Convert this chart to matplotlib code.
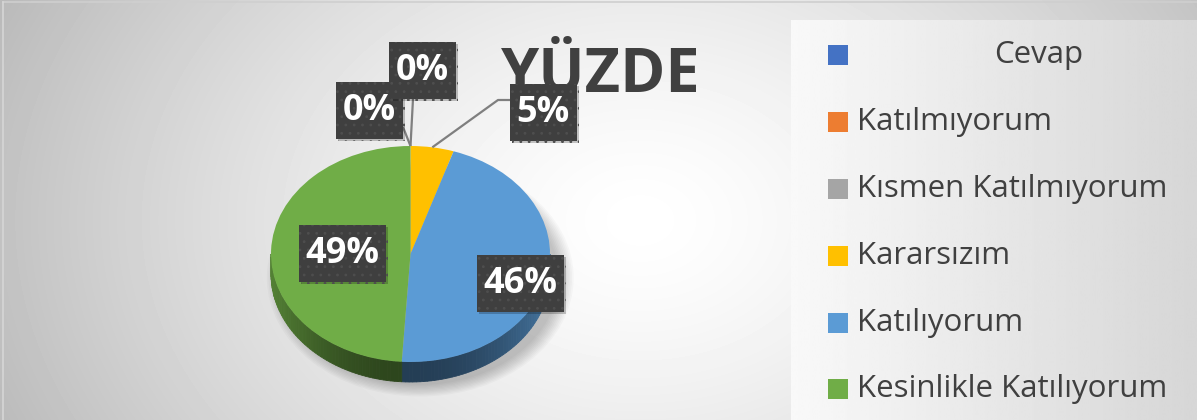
import numpy as np
import matplotlib.pyplot as plt
from matplotlib.patches import Rectangle, Polygon, Ellipse
import matplotlib.patheffects as pe

plt.rcParams['font.family'] = ['Open Sans', 'DejaVu Sans']
plt.rcParams['hatch.linewidth'] = 0.8

# data
categories = ['Cevap', 'Katılmıyorum', 'Kısmen Katılmıyorum', 'Kararsızım',
              'Katılıyorum', 'Kesinlikle Katılıyorum']
percents = [0, 0, 0, 5, 46, 49]
show_label = [False, True, True, True, True, True]
colors = ['#4472c4', '#ed7d31', '#a5a5a5', '#ffc000', '#5b9bd5', '#70ad47']

# label box centres (pixels from top-left) and leader start points
label_pos = [None, (369, 110), (422, 70), (543, 112), (520, 283), (342, 253)]
leader_pts = [None, [(403, 127)], [(413, 99)], [(510, 100), (498, 100)], None, None]

W, H = 1197, 420
CX, CY, RX, RY, DEPTH = 410.5, 254, 139.5, 108, 20

fig = plt.figure(figsize=(W / 100, H / 100), dpi=100)

# background: soft radial gradient
bg = fig.add_axes([0, 0, 1, 1], zorder=0)
bg.set_xlim(0, W)
bg.set_ylim(H, 0)
bg.axis('off')
yy, xx = np.mgrid[0:H, 0:W]
d = np.sqrt(((xx - 640) / 700) ** 2 + ((yy - 220) / 520) ** 2)
shade = np.clip(1 - 0.27 * d ** 1.4, 0, 1)
bg.imshow(shade, cmap='gray', vmin=0, vmax=1, extent=(0, W, H, 0),
          aspect='auto', interpolation='bilinear')
bg.plot([3, W], [2, 2], color='#cfcfcf', lw=1.2)
bg.plot([3, 3], [2, H], color='#d6d6d6', lw=1.2)

# pie (top face), squashed into an ellipse
ax = fig.add_axes([0, 0, 1, 1], zorder=1)
ax.patch.set_alpha(0)
wedges, _ = ax.pie(percents, colors=colors, startangle=90, counterclock=False,
                   radius=1, wedgeprops=dict(linewidth=0))
ax.set_aspect('auto')
ax.set_xlim(-CX / RX, (W - CX) / RX)
ax.set_ylim(-(H - CY) / RY, CY / RY)
ax.axis('off')
for w in wedges:
    w.set_zorder(3)

dep = DEPTH / RY

# soft drop shadow
for i in range(10):
    s = 1.10 - i * 0.012
    ax.add_patch(Ellipse((0.07, -0.22), 2 * s, 2 * s, color='black',
                         alpha=0.025, lw=0, zorder=1))

# side wall of the front half
for w, c in zip(wedges, colors):
    base = np.array(plt.matplotlib.colors.to_rgb(c))
    for k in (-360, 0, 360):
        a = max(w.theta1 + k, 180)
        b = min(w.theta2 + k, 360)
        if b <= a:
            continue
        edges = np.linspace(a, b, max(int((b - a) / 1.5), 2) + 1)
        for t0, t1 in zip(edges[:-1], edges[1:]):
            r0, r1 = np.radians(t0), np.radians(t1)
            tm = np.radians((t0 + t1) / 2)
            f = 0.40 + 0.35 * abs(np.cos(tm)) ** 2
            col = np.clip(base * f, 0, 1)
            pts = [(np.cos(r0), np.sin(r0)), (np.cos(r1), np.sin(r1)),
                   (np.cos(r1), np.sin(r1) - dep), (np.cos(r0), np.sin(r0) - dep)]
            ax.add_patch(Polygon(pts, closed=True, facecolor=col, edgecolor=col,
                                 lw=0.6, zorder=2))

# overlay: title, labels, legend
ov = fig.add_axes([0, 0, 1, 1], zorder=2)
ov.patch.set_alpha(0)
ov.set_xlim(0, W)
ov.set_ylim(H, 0)
ov.axis('off')

ov.text(601, 91, 'YÜZDE', fontsize=44, fontweight='bold', color='#404040',
        ha='center', va='baseline', zorder=1)

for i, w in enumerate(wedges):
    if not show_label[i] or not leader_pts[i]:
        continue
    tm = np.radians((w.theta1 + w.theta2) / 2)
    end = (CX + RX * np.cos(tm), CY - RY * np.sin(tm))
    path = leader_pts[i] + [end]
    ov.plot([p[0] for p in path], [p[1] for p in path], color='#7f7f7f',
            lw=1.6, zorder=2, solid_capstyle='butt')

for i, w in enumerate(wedges):
    if not show_label[i]:
        continue
    txt = f'{percents[i]}%'
    bx, by = label_pos[i]
    bw = 67 if len(txt) == 2 else 87
    bh = 57
    box = Rectangle((bx - bw / 2, by - bh / 2), bw, bh, facecolor='#3f3f3f',
                    edgecolor='#4e4e4e', hatch='..', lw=0, zorder=3)
    box.set_path_effects([pe.SimplePatchShadow(offset=(2, -2), shadow_rgbFace='k',
                                               alpha=0.22), pe.Normal()])
    ov.add_patch(box)
    ov.text(bx, by + 1, txt, fontsize=26, fontweight='bold', color='white',
            ha='center', va='center', zorder=4)

# legend panel
xs = np.linspace(0.975, 0.84, 200)[None, :]
ov.imshow(xs, cmap='gray', vmin=0, vmax=1, extent=(791, W, H, 20),
          aspect='auto', interpolation='bilinear', zorder=1)
ov.set_xlim(0, W)
ov.set_ylim(H, 0)

row_y = [55, 122, 189, 256, 323, 389]
for cat, c, ry in zip(categories, colors, row_y):
    ov.add_patch(Rectangle((828, ry - 10), 20, 20, facecolor=c, lw=0, zorder=2))
    if cat == 'Cevap':
        ov.text(1039, ry, cat, fontsize=22.5, color='#404040', ha='center',
                va='center', zorder=2)
    else:
        ov.text(857, ry, cat, fontsize=22.5, color='#404040', ha='left',
                va='center', zorder=2)

fig.savefig('out.png', dpi=100)
